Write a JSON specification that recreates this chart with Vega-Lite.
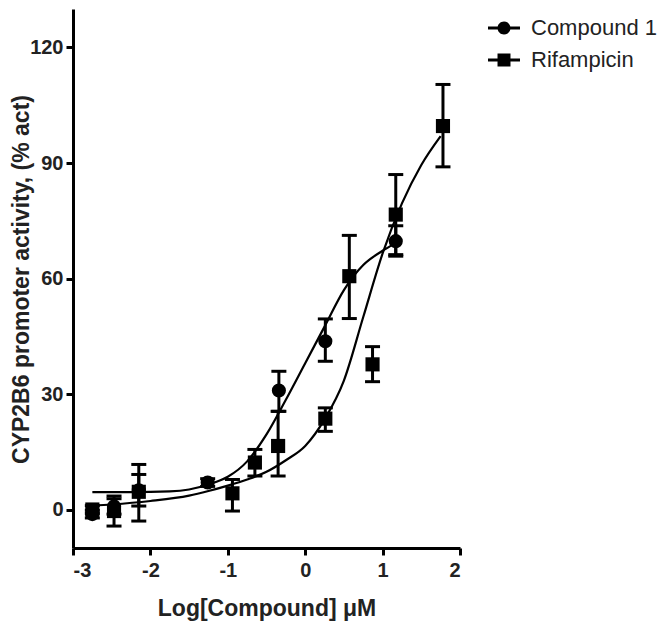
{
  "$schema": "https://vega.github.io/schema/vega-lite/v6.json",
  "width": 387,
  "height": 539,
  "autosize": "none",
  "padding": {"left": 73, "top": 9, "right": 211, "bottom": 82},
  "background": "white",
  "config": {
    "view": {"stroke": null},
    "font": "Liberation Sans",
    "axis": {
      "grid": false,
      "domainColor": "black",
      "domainWidth": 3,
      "tickColor": "black",
      "tickWidth": 3,
      "tickSize": 7,
      "labelFont": "Liberation Sans",
      "labelFontWeight": "bold",
      "labelFontSize": 20,
      "labelColor": "#222222",
      "labelExpr": "datum.value",
      "titleFont": "Liberation Sans",
      "titleFontWeight": "bold",
      "titleFontSize": 23,
      "titleColor": "#222222",
      "titleBaseline": "alphabetic"
    }
  },
  "datasets": {
    "curves": [
      {"series": "Compound 1", "x": -2.75, "y": 4.5},
      {"series": "Compound 1", "x": -2.25, "y": 4.5},
      {"series": "Compound 1", "x": -1.75, "y": 4.7},
      {"series": "Compound 1", "x": -1.5, "y": 5.2},
      {"series": "Compound 1", "x": -1.25, "y": 6.5},
      {"series": "Compound 1", "x": -1.0, "y": 8.5},
      {"series": "Compound 1", "x": -0.75, "y": 12.5},
      {"series": "Compound 1", "x": -0.5, "y": 19.5},
      {"series": "Compound 1", "x": -0.25, "y": 28.5},
      {"series": "Compound 1", "x": 0.0, "y": 38},
      {"series": "Compound 1", "x": 0.25, "y": 47.5},
      {"series": "Compound 1", "x": 0.5, "y": 57},
      {"series": "Compound 1", "x": 0.75, "y": 63.5},
      {"series": "Compound 1", "x": 1.0, "y": 67.2},
      {"series": "Compound 1", "x": 1.15, "y": 69},
      {"series": "Rifampicin", "x": -2.75, "y": 1.0},
      {"series": "Rifampicin", "x": -2.5, "y": 1.3},
      {"series": "Rifampicin", "x": -2.0, "y": 2.2},
      {"series": "Rifampicin", "x": -1.5, "y": 3.6},
      {"series": "Rifampicin", "x": -1.25, "y": 4.8},
      {"series": "Rifampicin", "x": -1.0, "y": 6.2},
      {"series": "Rifampicin", "x": -0.75, "y": 7.8},
      {"series": "Rifampicin", "x": -0.5, "y": 9.8},
      {"series": "Rifampicin", "x": -0.25, "y": 12.8},
      {"series": "Rifampicin", "x": 0.0, "y": 16.5},
      {"series": "Rifampicin", "x": 0.25, "y": 23.4},
      {"series": "Rifampicin", "x": 0.5, "y": 33.5},
      {"series": "Rifampicin", "x": 0.75, "y": 50},
      {"series": "Rifampicin", "x": 1.0, "y": 66.5},
      {"series": "Rifampicin", "x": 1.25, "y": 79.5},
      {"series": "Rifampicin", "x": 1.5, "y": 89.5},
      {"series": "Rifampicin", "x": 1.75, "y": 97}
    ],
    "points": [
      {"series": "Compound 1", "x": -2.75, "y": -1.2, "lo": -2.2, "hi": -0.2},
      {"series": "Compound 1", "x": -2.47, "y": 0.8, "lo": -1.2, "hi": 2.8},
      {"series": "Compound 1", "x": -2.15, "y": 5.0, "lo": 0.9, "hi": 9.1},
      {"series": "Compound 1", "x": -1.26, "y": 7.0, "lo": 6.0, "hi": 8.0},
      {"series": "Compound 1", "x": -0.34, "y": 30.9, "lo": 25.5, "hi": 35.9},
      {"series": "Compound 1", "x": 0.26, "y": 43.7, "lo": 38.5, "hi": 49.5},
      {"series": "Compound 1", "x": 1.17, "y": 69.7, "lo": 65.8, "hi": 73.7},
      {"series": "Rifampicin", "x": -2.75, "y": 0.0, "lo": -1.0, "hi": 1.0},
      {"series": "Rifampicin", "x": -2.47, "y": -0.4, "lo": -4.3, "hi": 3.5},
      {"series": "Rifampicin", "x": -2.15, "y": 4.6, "lo": -3.0, "hi": 11.7},
      {"series": "Rifampicin", "x": -0.94, "y": 4.2, "lo": -0.4, "hi": 7.8},
      {"series": "Rifampicin", "x": -0.65, "y": 12.2, "lo": 8.7, "hi": 15.6},
      {"series": "Rifampicin", "x": -0.35, "y": 16.5, "lo": 8.7, "hi": 25.5},
      {"series": "Rifampicin", "x": 0.26, "y": 23.6, "lo": 20.3, "hi": 26.4},
      {"series": "Rifampicin", "x": 0.57, "y": 60.6, "lo": 49.6, "hi": 71.2},
      {"series": "Rifampicin", "x": 0.87, "y": 37.7, "lo": 33.2, "hi": 42.3},
      {"series": "Rifampicin", "x": 1.17, "y": 76.6, "lo": 66.2, "hi": 87.0},
      {"series": "Rifampicin", "x": 1.78, "y": 99.6, "lo": 89.0, "hi": 110.4}
    ]
  },
  "encoding": {
    "x": {
      "field": "x", "type": "quantitative",
      "scale": {"domain": [-3, 2], "nice": false, "zero": false},
      "axis": {"values": [-3, -2, -1, 0, 1, 2], "title": "Log[Compound] μM", "labelPadding": 5, "titleY": 67}
    },
    "y": {
      "field": "y", "type": "quantitative",
      "scale": {"domain": [-10, 130], "nice": false, "zero": false},
      "axis": {"values": [0, 30, 60, 90, 120], "title": "CYP2B6 promoter activity, (% act)", "labelPadding": 3, "titleX": -45, "titleY": 270}
    }
  },
  "layer": [
    {
      "data": {"name": "curves"},
      "mark": {"type": "line", "color": "black", "strokeWidth": 2.2, "interpolate": "monotone"},
      "encoding": {"detail": {"field": "series"}}
    },
    {
      "data": {"name": "points"},
      "mark": {"type": "rule", "color": "black", "strokeWidth": 3},
      "encoding": {"y": {"field": "lo", "type": "quantitative"}, "y2": {"field": "hi"}}
    },
    {
      "data": {"name": "points"},
      "mark": {"type": "tick", "orient": "horizontal", "color": "black", "opacity": 1, "size": 15, "thickness": 3},
      "encoding": {"y": {"field": "lo", "type": "quantitative"}}
    },
    {
      "data": {"name": "points"},
      "mark": {"type": "tick", "orient": "horizontal", "color": "black", "opacity": 1, "size": 15, "thickness": 3},
      "encoding": {"y": {"field": "hi", "type": "quantitative"}}
    },
    {
      "data": {"name": "points"},
      "mark": {"type": "point", "filled": true, "color": "black", "opacity": 1, "size": 200},
      "encoding": {
        "shape": {
          "field": "series", "type": "nominal",
          "scale": {"domain": ["Compound 1", "Rifampicin"], "range": ["circle", "square"]},
          "legend": null
        }
      }
    },
    {
      "data": {"name": "curves"},
      "mark": {"type": "point", "filled": true, "color": "black", "opacity": 0, "size": 316},
      "encoding": {
        "shape": {
          "field": "series", "type": "nominal",
          "scale": {
            "domain": ["Compound 1", "Rifampicin"],
            "range": [
              "M-1.8,-0.17H-0.6V0.17H-1.8Z M0.6,-0.17H1.8V0.17H0.6Z M0.73,0A0.73,0.73,0,1,1,-0.73,0A0.73,0.73,0,1,1,0.73,0Z",
              "M-1.8,-0.17H-0.73V0.17H-1.8Z M0.73,-0.17H1.8V0.17H0.73Z M-0.73,-0.73H0.73V0.73H-0.73Z"
            ]
          },
          "legend": {
            "title": null,
            "orient": "none",
            "legendX": 420,
            "legendY": 8,
            "symbolOpacity": 1,
            "symbolFillColor": "black",
            "symbolStrokeColor": "black",
            "symbolStrokeWidth": 0,
            "symbolSize": 316,
            "labelFont": "Liberation Sans",
            "labelFontSize": 22,
            "labelColor": "#222222",
            "labelOffset": 16,
            "rowPadding": 10,
            "padding": 0
          }
        }
      }
    }
  ],
  "resolve": {"scale": {"shape": "independent"}}
}
